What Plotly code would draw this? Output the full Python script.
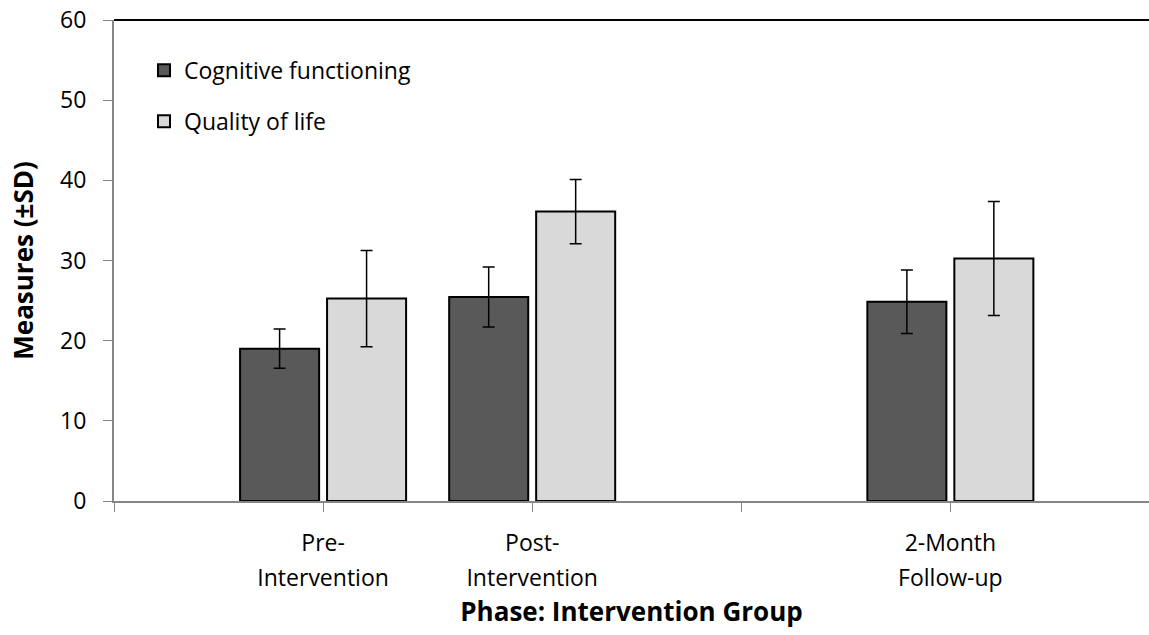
import plotly.graph_objects as go

# Category slots on the x axis (empty slots are spacing categories)
slots = ["", "Pre-Intervention", "Post-Intervention", "", "2-Month Follow-up"]
tick_line1 = ["", "Pre-", "Post-", "", "2-Month"]
tick_line2 = ["", "Intervention", "Intervention", "", "Follow-up"]

phases = ["Pre-Intervention", "Post-Intervention", "2-Month Follow-up"]
cog_mean = [19.0, 25.45, 24.85]
cog_sd = [2.45, 3.75, 3.95]
qol_mean = [25.25, 36.1, 30.25]
qol_sd = [6.0, 4.0, 7.1]

xpos = [slots.index(p) for p in phases]
tick_pos = list(range(len(slots)))

FONT = "Open Sans"
TICK_SIZE = 23
TITLE_SIZE = 26
AXIS_GRAY = "#868686"

fig = go.Figure()
fig.add_trace(go.Bar(
    x=xpos, y=cog_mean, name="Cognitive functioning", legendgroup="a",
    marker=dict(color="#595959", line=dict(color="black", width=2)),
    error_y=dict(type="data", array=cog_sd, color="black", thickness=1.5, width=6),
))
fig.add_trace(go.Bar(
    x=xpos, y=qol_mean, name="Quality of life", legendgroup="b",
    marker=dict(color="#d9d9d9", line=dict(color="black", width=2)),
    error_y=dict(type="data", array=qol_sd, color="black", thickness=1.5, width=6),
))

fig.update_layout(
    width=1149, height=635,
    margin=dict(l=114, r=0, t=20, b=134, autoexpand=False),
    paper_bgcolor="white", plot_bgcolor="white",
    font=dict(family=FONT, size=TICK_SIZE, color="black"),
    barmode="group", bargap=0.168, bargroupgap=0.0913,
    showlegend=True,
    legend=dict(x=0.029, y=0.94, xanchor="left", yanchor="top",
                traceorder="grouped", tracegroupgap=18,
                bgcolor="rgba(0,0,0,0)", font=dict(family=FONT, size=TICK_SIZE)),
    xaxis=dict(
        range=[0, 4.95], tickmode="array", tickvals=tick_pos, ticktext=tick_line1,
        showline=True, linecolor=AXIS_GRAY, linewidth=2, automargin=False,
        ticks="outside", ticklen=9, tickcolor=AXIS_GRAY, tickwidth=1,
        ticklabelstandoff=11, showgrid=False, zeroline=False,
        tickfont=dict(family=FONT, size=TICK_SIZE),
    ),
    xaxis2=dict(
        overlaying="x", matches="x", anchor="y", side="bottom", automargin=False,
        tickmode="array", tickvals=tick_pos, ticktext=tick_line2,
        showline=False, ticks="", showgrid=False, zeroline=False,
        ticklabelstandoff=61, tickfont=dict(family=FONT, size=TICK_SIZE),
        title=dict(text="<b>Phase: Intervention Group</b>", standoff=8,
                   font=dict(family=FONT, size=TITLE_SIZE)),
    ),
    yaxis=dict(
        range=[0, 60], dtick=10, showline=True, linecolor=AXIS_GRAY, linewidth=2,
        automargin=False,
        ticks="outside", ticklen=9, tickcolor=AXIS_GRAY, tickwidth=1,
        ticklabelstandoff=12, ticklabeloverflow="allow", showgrid=False, zeroline=False,
        tickfont=dict(family=FONT, size=TICK_SIZE),
        title=dict(text="<b>Measures (±SD)</b>", standoff=19,
                   font=dict(family=FONT, size=TITLE_SIZE)),
    ),
    shapes=[dict(type="line", xref="paper", yref="paper", x0=0, x1=1, y0=1, y1=1,
                 line=dict(color="black", width=2))],
)

# empty trace that activates the second (label-only) x axis
fig.add_trace(go.Scatter(x=[], y=[], xaxis="x2", showlegend=False, hoverinfo="skip"))

fig.write_html(
    "out.html",
    config={"displayModeBar": False},
    post_script="document.body.style.margin='0';document.body.style.overflow='hidden';",
)
